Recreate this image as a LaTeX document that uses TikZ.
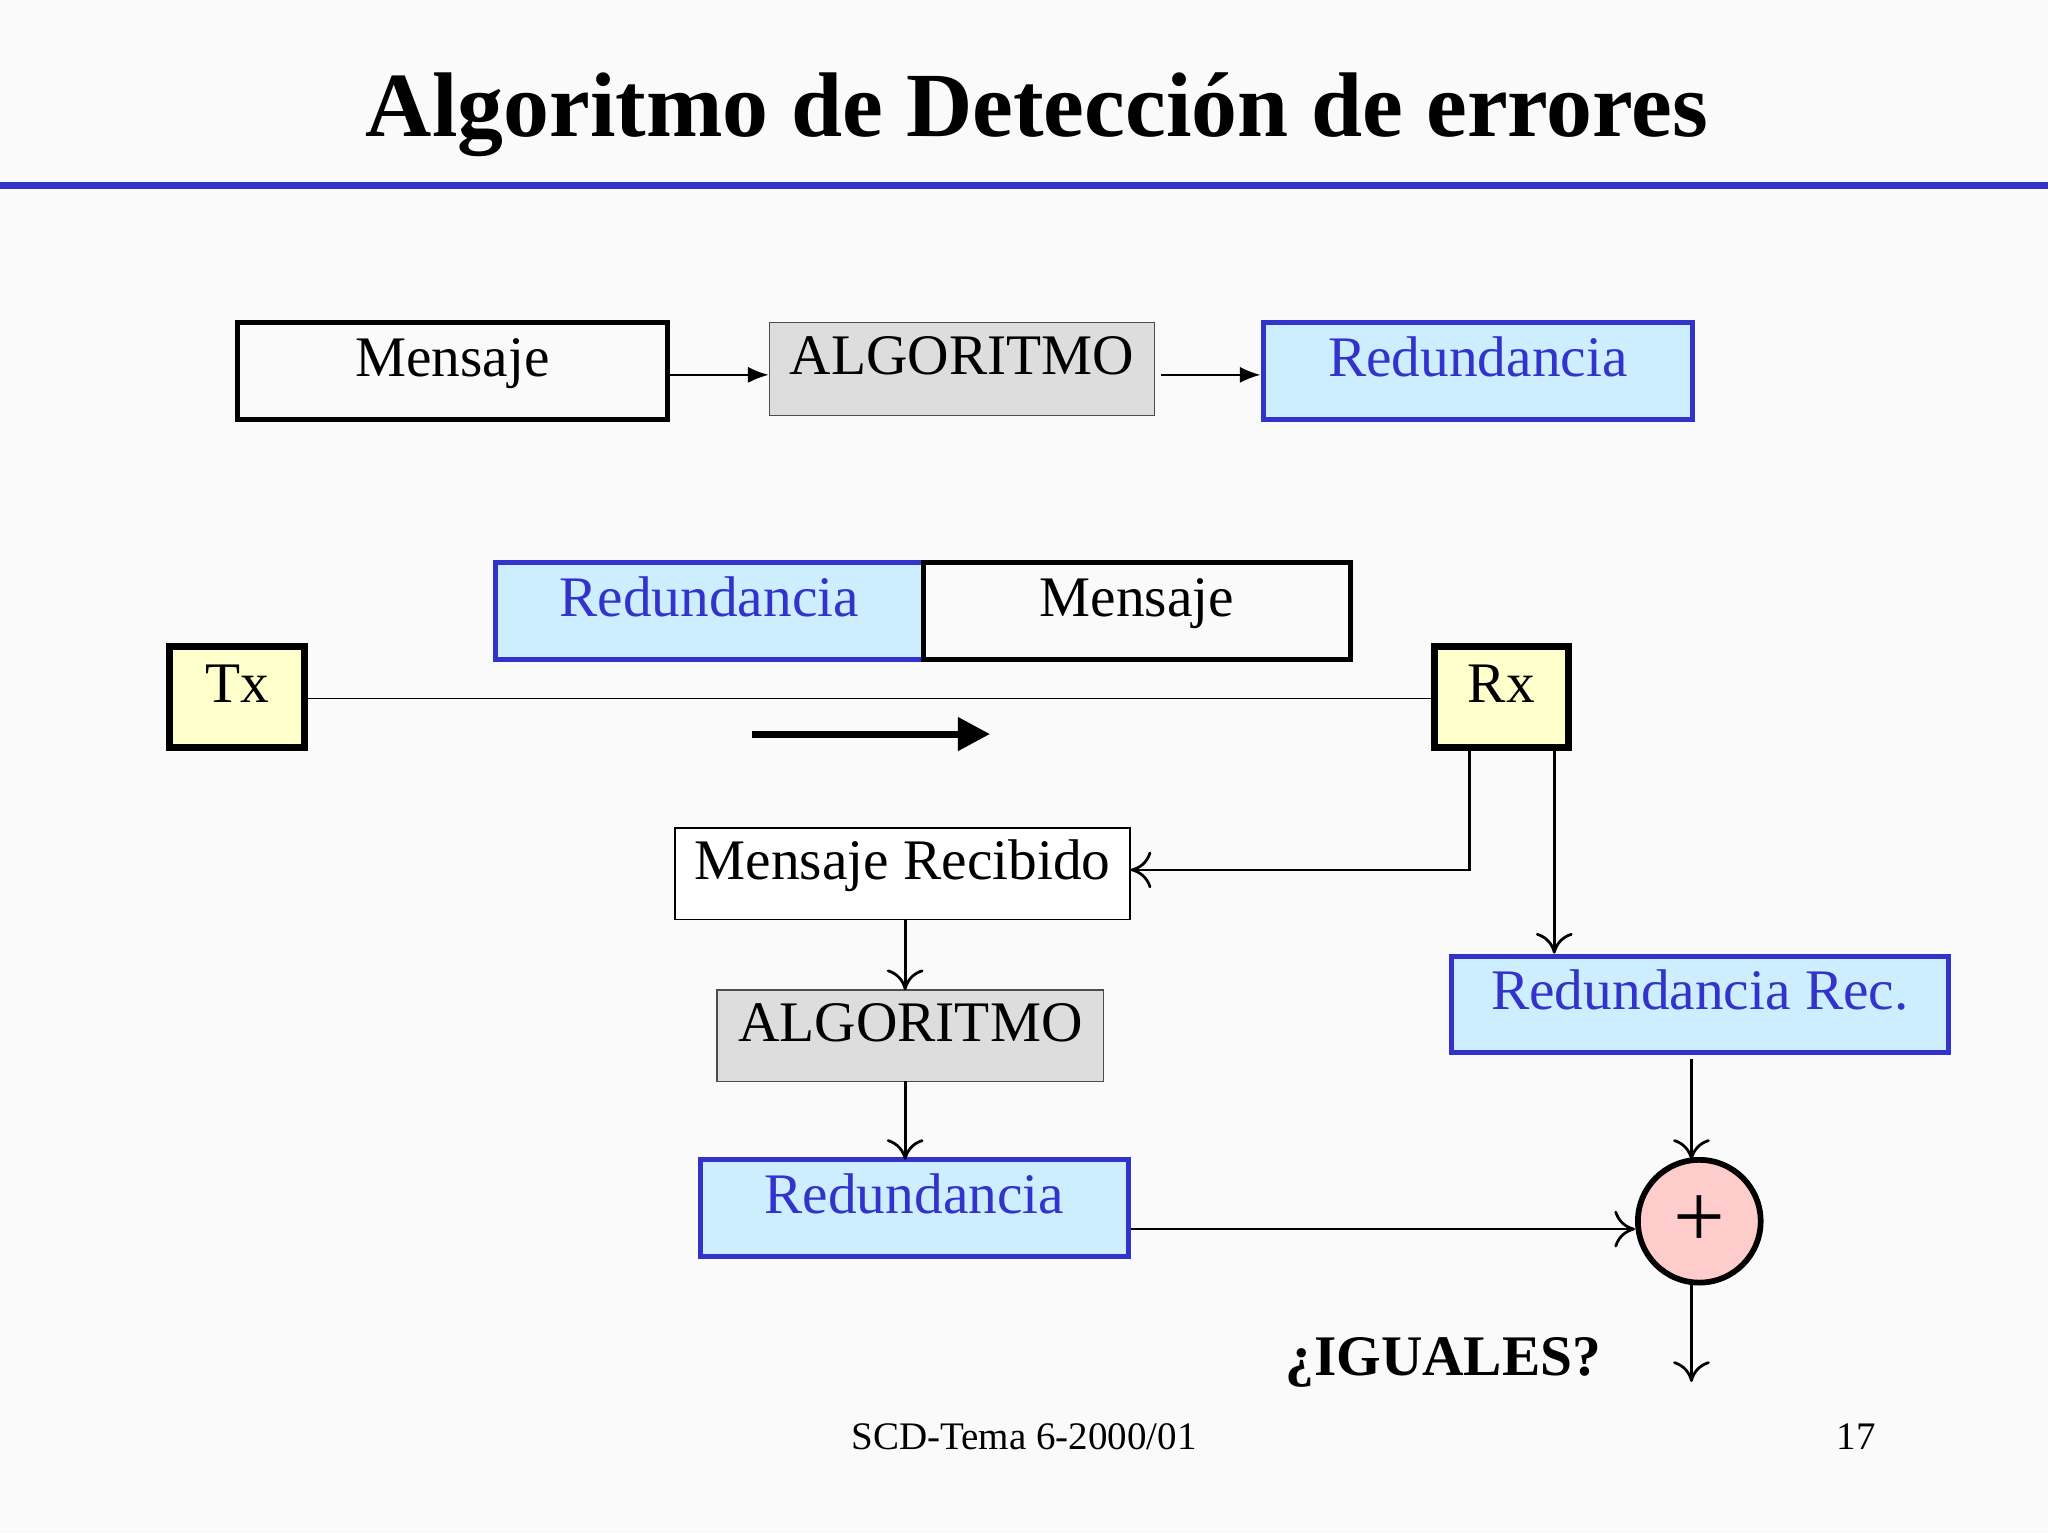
\documentclass[tikz,border=0pt]{standalone}
\usepackage{fontspec}
\setmainfont{Liberation Serif}
\usetikzlibrary{arrows.meta}
\definecolor{bl}{HTML}{3333CC}
\definecolor{lb}{HTML}{CCEEFF}
\definecolor{gr}{HTML}{DDDDDD}
\definecolor{yl}{HTML}{FFFFCC}
\definecolor{pk}{HTML}{FFCCCC}
\begin{document}
\begin{tikzpicture}[x=0.02cm,y=-0.02cm,
 txt/.style={font=\fontsize{25}{28}\selectfont,text height=0.68em,text depth=0.2em},
 bk/.style={draw=black,line width=2.2pt},
 bbox/.style={draw=bl,line width=2.2pt,fill=lb,text=bl},
 gbox/.style={draw=black!70,line width=0.6pt,fill=gr},
 ybox/.style={draw=black,line width=3pt,fill=yl},
 sa/.style={-{Latex[length=9pt,width=7pt]},line width=0.8pt},
 oa/.style={-{To[length=9pt,width=16pt]},line width=1.2pt}]
\fill[white!98!black] (0,0) rectangle (1568,1174);
\useasboundingbox (0,0) rectangle (1568,1174);
\node[font=\fontsize{40}{44}\bfseries\selectfont] (title) at (794,88) {Algoritmo de Detección de errores};
\draw[bl,line width=3pt] (0,142) -- (1568,142);
\node[bk,minimum width=329*0.02cm,minimum height=74*0.02cm,txt] (m1) at (346.5,284) {Mensaje};
\node[gbox,minimum width=295*0.02cm,minimum height=71*0.02cm,txt] (a1) at (736.5,282.5) {ALGORITMO};
\node[bbox,minimum width=329*0.02cm,minimum height=74*0.02cm,txt] (r1) at (1131.5,284) {Redundancia};
\draw[sa] (m1.east|-0,287) -- (a1.west|-0,287);
\draw[sa] (889,287) -- (r1.west|-0,287);
\node[bbox,minimum width=328*0.02cm,minimum height=74*0.02cm,txt] (r2) at (543,468) {Redundancia};
\node[bk,minimum width=327*0.02cm,minimum height=74*0.02cm,txt] (m2) at (870.5,468) {Mensaje};
\node[ybox,minimum width=103*0.02cm,minimum height=77*0.02cm,txt] (tx) at (181.5,533.5) {Tx};
\node[ybox,minimum width=103*0.02cm,minimum height=77*0.02cm,txt] (rx) at (1149.5,533.5) {Rx};
\draw[line width=0.6pt] (tx.east|-0,535) -- (rx.west|-0,535);
\coordinate (t0) at (576,562); \coordinate (t1) at (758,562);
\draw[line width=3pt,-{Triangle[length=14pt,width=14pt]}] (t0) -- (t1);
\node[draw=black,line width=0.8pt,fill=white,minimum width=348*0.02cm,minimum height=70*0.02cm,txt] (mr) at (691,669) {Mensaje Recibido};
\node[gbox,minimum width=296*0.02cm,minimum height=70*0.02cm,txt] (a2) at (697,793) {ALGORITMO};
\node[bbox,minimum width=328*0.02cm,minimum height=74*0.02cm,txt] (r3) at (700,925) {Redundancia};
\node[bbox,minimum width=381*0.02cm,minimum height=74*0.02cm,txt] (rr) at (1301.5,769) {Redundancia Rec.};
\node[circle,draw=black,line width=2.5pt,fill=pk,minimum size=94*0.02cm,inner sep=0pt,font=\fontsize{40}{42}\selectfont] (c) at (1301,935) {+};
\draw[oa] (1125,572) -- (1125,666) -- (mr.east|-0,666);
\draw[oa] (1190,572) -- (1190,0|-rr.north);
\draw[oa] (693,704) -- (693,758);
\draw[oa] (693,828) -- (693,888);
\draw[oa] (r3.east|-0,941) -- (c.west|-0,941);
\draw[oa] (1295,811) -- (1295,888);
\coordinate (out) at (1295,1058);
\draw[oa] (1295,982) -- (out);
\node[font=\fontsize{25}{28}\bfseries\selectfont] (ig) at (1105,1043) {¿IGUALES?};
\node[font=\fontsize{17}{20}\selectfont] (ft) at (784,1100) {SCD-Tema 6-2000/01};
\node[font=\fontsize{17}{20}\selectfont] (pg) at (1421,1100) {17};
\end{tikzpicture}
\end{document}
